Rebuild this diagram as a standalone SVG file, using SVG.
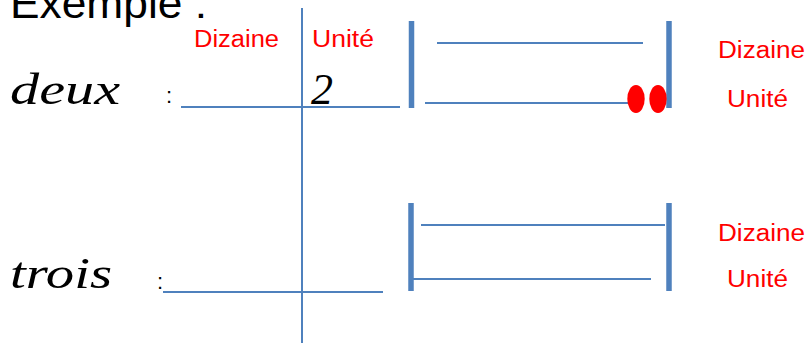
<svg xmlns="http://www.w3.org/2000/svg" width="806" height="343" viewBox="0 0 806 343">
<style>
.t{font-family:"Liberation Sans",Arial,sans-serif;fill:#000}
.r{font-family:"Liberation Sans",Arial,sans-serif;fill:#ff0000;font-size:23px}
.c{font-family:"Liberation Serif","DejaVu Serif",serif;font-style:italic;fill:#000;font-size:44px}
.ln{stroke:#4f81bd;stroke-width:2;fill:none}
.bar{stroke:#4f81bd;stroke-width:5.5;fill:none}
</style>
<rect width="806" height="343" fill="#fff"/>
<g id="title"><text class="t" x="10" y="18" font-size="42" textLength="197" lengthAdjust="spacingAndGlyphs">Exemple :</text></g>
<g id="headers">
<text class="r" x="194" y="47" textLength="85" lengthAdjust="spacingAndGlyphs">Dizaine</text>
<text class="r" x="312" y="47" textLength="62" lengthAdjust="spacingAndGlyphs">Unité</text>
</g>
<g id="connectors">
<line class="ln" x1="302" y1="8" x2="302" y2="343"/>
<line class="ln" x1="181" y1="107" x2="400" y2="107"/>
<line class="ln" x1="163" y1="292" x2="383" y2="292"/>
</g>
<g id="row-deux">
<text class="c" x="10" y="104" textLength="110" lengthAdjust="spacingAndGlyphs">deux</text>
<text class="t" x="166" y="103" font-size="22">:</text>
<text class="c" x="311" y="104" textLength="22" lengthAdjust="spacingAndGlyphs">2</text>
</g>
<g id="row-trois">
<text class="c" x="10" y="288" textLength="102" lengthAdjust="spacingAndGlyphs">trois</text>
<text class="t" x="157" y="289" font-size="22">:</text>
</g>
<g id="abacus-deux">
<line class="bar" x1="411.5" y1="21" x2="411.5" y2="108"/>
<line class="bar" x1="669" y1="21" x2="669" y2="108"/>
<line class="ln" x1="437" y1="43" x2="643" y2="43"/>
<line class="ln" x1="425" y1="103" x2="632" y2="103"/>
<ellipse cx="636" cy="99" rx="8.7" ry="14" fill="#ff0000"/>
<ellipse cx="658" cy="99" rx="8.7" ry="14" fill="#ff0000"/>
<text class="r" x="718" y="58" textLength="87" lengthAdjust="spacingAndGlyphs">Dizaine</text>
<text class="r" x="727" y="107" textLength="61" lengthAdjust="spacingAndGlyphs">Unité</text>
</g>
<g id="abacus-trois">
<line class="bar" x1="411" y1="203" x2="411" y2="291"/>
<line class="bar" x1="669" y1="203" x2="669" y2="291"/>
<line class="ln" x1="421" y1="225" x2="665" y2="225"/>
<line class="ln" x1="413" y1="279" x2="651" y2="279"/>
<text class="r" x="718" y="241" textLength="87" lengthAdjust="spacingAndGlyphs">Dizaine</text>
<text class="r" x="727" y="287" textLength="61" lengthAdjust="spacingAndGlyphs">Unité</text>
</g>
</svg>
